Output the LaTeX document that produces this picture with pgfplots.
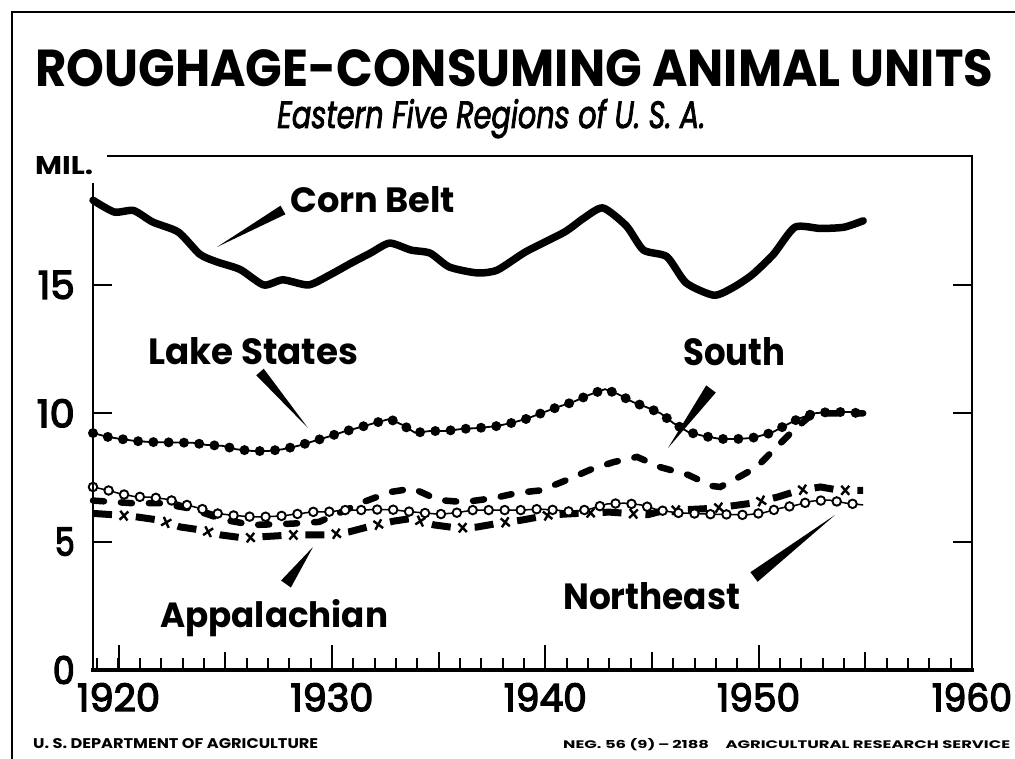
\documentclass[border=0pt]{standalone}
\usepackage{fontspec}
\setmainfont{Poppins}
\newfontfamily\tkfont{Poppins}[FakeBold=3.5]
\newfontfamily\subfont{Poppins}[FakeBold=2.5]
\usepackage{graphicx}
\usepackage{pgfplots}
\pgfplotsset{compat=1.18}
\usetikzlibrary{decorations.markings}
\newcommand\fit[3]{\resizebox{#1pt}{#2pt}{#3}}
\newcommand\tk[2]{\resizebox{#1pt}{28pt}{\tkfont #2}}
\begin{document}
\begin{tikzpicture}[x=1pt,y=1pt]
\path[use as bounding box] (0,0) rectangle (1015,-759);
\draw[line width=2.5pt] (12,-759) -- (12,-12) -- (1015,-12);
\begin{axis}[
  at={(93pt,-670pt)}, anchor=south west,
  scale only axis, width=879pt, height=513.4pt,
  xmin=1918.8, xmax=1960, ymin=0, ymax=20,
  axis line style={draw=none},
  tick align=inside,
  tick style={line width=2.2pt, black},
  major tick length=25pt, minor tick length=12pt,
  xtick={1920,1930,1940,1950,1960},
  xticklabels={\tk{83}{1920},\tk{83}{1930},\tk{83}{1940},\tk{83}{1950},\tk{80}{1960}},
  minor xtick={1919,1920,...,1959},
  extra x ticks={1925,1935,1945,1955},
  extra x tick labels={},
  extra x tick style={major tick length=18pt},
  xtick pos=left,
  ytick=\empty,
  extra y ticks={0,5,10,15},
  extra y tick labels={\tk{22}{0},\tk{20}{5},\tk{38}{10},\tk{37}{15}},
  extra y tick style={major tick length=19pt},
  minor ytick={2.5,7.5,12.5,17.5},
  ytick pos=both,
  xticklabel style={anchor=north, inner sep=0pt, yshift=-13pt},
  yticklabel style={anchor=east, inner sep=0pt, xshift=-18pt},
  clip=false,
]
% Corn Belt
\addplot[line width=7.5pt, line join=round, line cap=round, smooth, tension=0.4] coordinates {
(1918.8,18.3) (1919.8,17.84) (1920.7,17.9) (1921.6,17.45) (1922.8,17.06) (1923.8,16.2) (1924.6,15.9) (1925.7,15.6) (1926.8,15.0) (1927.7,15.2) (1928.9,15.0) (1929.9,15.39) (1930.9,15.85) (1931.8,16.24) (1932.7,16.63) (1933.7,16.36) (1934.6,16.24) (1935.5,15.7) (1936.8,15.47) (1937.75,15.58) (1939.1,16.3) (1940.9,17.06) (1941.8,17.6) (1942.7,18.0) (1943.8,17.3) (1944.6,16.36) (1945.7,16.1) (1946.6,15.08) (1947.9,14.6) (1948.8,14.9) (1949.7,15.4) (1950.7,16.2) (1951.7,17.25) (1952.9,17.2) (1954,17.25) (1954.9,17.5)};
% Lake States
\addplot[line width=1.8pt, postaction={draw, line width=10pt, line cap=round, dash pattern=on 0pt off 15.3pt}] coordinates {
(1918.8,9.23) (1919.5,9.08) (1920.1,9.0) (1920.8,8.92) (1921.5,8.88) (1923.5,8.85) (1924.1,8.77) (1924.9,8.73) (1925.5,8.6) (1926.3,8.53) (1927.0,8.53) (1927.7,8.6) (1928.4,8.73) (1929,8.88) (1929.8,9.08) (1930.5,9.27) (1931.2,9.43) (1932,9.62) (1932.7,9.78) (1933.3,9.55) (1933.9,9.24) (1934.6,9.31) (1935.3,9.31) (1936.1,9.39) (1936.9,9.43) (1937.7,9.5) (1938.4,9.62) (1939.1,9.78) (1939.8,10.0) (1940.6,10.25) (1941.3,10.44) (1942,10.7) (1942.8,10.94) (1943.4,10.75) (1944.1,10.44) (1944.8,10.22) (1945.4,10.0) (1946,9.62) (1946.7,9.27) (1947.4,9.12) (1948.2,9.0) (1949,9.0) (1949.7,9.04) (1950.6,9.24) (1951.3,9.55) (1951.9,9.8) (1952.6,10.0) (1953.3,10.05) (1954.3,10.05) (1954.9,9.97)};
% South
\addplot[line width=6.5pt, line cap=round, dash pattern=on 11pt off 17pt] coordinates {
(1918.8,6.6) (1920.6,6.5) (1921.9,6.5) (1923.3,6.3) (1925.0,5.84) (1926.3,5.65) (1928.1,5.7) (1929.4,5.77) (1930.3,6.1) (1931.5,6.55) (1932.7,6.93) (1933.8,7.07) (1935,6.62) (1936.2,6.54) (1937.6,6.7) (1938.7,6.9) (1939.8,7.0) (1940.8,7.33) (1942.1,7.8) (1943.2,8.1) (1944.3,8.3) (1945.4,7.9) (1946.7,7.6) (1947.8,7.17) (1948.2,7.13) (1949,7.48) (1949.9,7.9) (1950.7,8.57) (1951.5,9.23) (1952.3,9.82) (1953,10.0) (1954.3,10.0) (1954.9,10.0)};
% Appalachian
\addplot[line width=7pt, dash pattern=on 19pt off 24pt,
  postaction={decorate}, decoration={markings, mark=between positions 31pt and 1 step 43pt with {\draw[line width=2.4pt, solid] (-4pt,-4.5pt)--(4pt,4.5pt) (-4pt,4.5pt)--(4pt,-4.5pt);}}] coordinates {
(1918.8,6.1) (1919.9,6.04) (1920.8,5.97) (1921.9,5.84) (1922.9,5.57) (1923.9,5.45) (1924.8,5.26) (1925.9,5.14) (1926.9,5.2) (1928.1,5.26) (1929.8,5.26) (1930.8,5.38) (1931.8,5.6) (1932.9,5.8) (1933.7,5.9) (1934.8,5.65) (1935.9,5.53) (1936.8,5.57) (1937.9,5.73) (1938.9,5.84) (1940.2,6.04) (1941.5,6.1) (1943,6.15) (1944.8,6.05) (1945.5,6.2) (1947.9,6.3) (1949.7,6.5) (1950.9,6.74) (1951.9,7.0) (1952.9,7.13) (1953.8,7.0) (1954.9,7.0)};
% Northeast
\addplot[line width=1.5pt,
  postaction={draw, line width=10.6pt, line cap=round, dash pattern=on 0pt off 16pt},
  postaction={draw, white, line width=6.2pt, line cap=round, dash pattern=on 0pt off 16pt}] coordinates {
(1918.8,7.13) (1919.5,7.0) (1920.1,6.86) (1920.8,6.75) (1921.5,6.73) (1922.3,6.65) (1923.1,6.45) (1923.8,6.3) (1924.6,6.1) (1925.4,6.02) (1926.2,5.97) (1926.9,5.97) (1927.6,6.0) (1928.3,6.07) (1929.1,6.16) (1929.8,6.16) (1930.6,6.23) (1931.3,6.23) (1932,6.25) (1932.8,6.25) (1933.5,6.18) (1934.3,6.12) (1935,6.07) (1935.8,6.12) (1936.6,6.23) (1937.3,6.23) (1938.1,6.23) (1938.9,6.23) (1939.7,6.27) (1940.5,6.23) (1941.3,6.16) (1942.1,6.27) (1942.9,6.47) (1943.7,6.5) (1944.5,6.43) (1945.3,6.23) (1946.2,6.12) (1946.9,6.1) (1947.7,6.07) (1948.6,6.06) (1949.4,6.04) (1950.2,6.12) (1951,6.3) (1951.8,6.43) (1952.5,6.58) (1953.3,6.62) (1954.1,6.5) (1954.9,6.43)};
\end{axis}
% frame
\draw[line width=4pt] (91,-670) -- (974,-670);
\draw[line width=2pt] (93,-670) -- (93,-183);
\draw[line width=2pt] (972,-670) -- (972,-156);
\draw[line width=2pt] (107,-156) -- (973,-156);
% pointers
\fill (217,-247) -- (280.5,-205.7) -- (285.5,-214.3) -- cycle;
\fill (308,-428) -- (256.3,-375.3) -- (263.7,-368.7) -- cycle;
\fill (668,-448) -- (706.2,-385.4) -- (715.8,-392.6) -- cycle;
\fill (313,-547) -- (281.1,-580.5) -- (290.9,-587.5) -- cycle;
\fill (835,-515) -- (750.4,-572.2) -- (757.6,-581.8) -- cycle;
% texts
\node[anchor=base west, inner sep=0pt] at (35,-87) {\fit{958}{37}{\bfseries ROUGHAGE-CONSUMING ANIMAL UNITS}};
\node[anchor=base west, inner sep=0pt] at (277,-128) {\fit{428}{29}{\subfont\itshape Eastern Five Regions of U. S. A.}};
\node[anchor=base west, inner sep=0pt] at (35,-175) {\fit{58}{18}{\bfseries MIL.}};
\node[anchor=base west, inner sep=0pt] at (290,-213) {\fit{165}{26}{\bfseries Corn Belt}};
\node[anchor=base west, inner sep=0pt] at (148,-364) {\fit{210}{27}{\bfseries Lake States}};
\node[anchor=base west, inner sep=0pt] at (683,-366) {\fit{102}{28}{\bfseries South}};
\node[anchor=base west, inner sep=0pt] at (160,-627) {\fit{228}{28}{\bfseries Appalachian}};
\node[anchor=base west, inner sep=0pt] at (563,-609) {\fit{177}{27}{\bfseries Northeast}};
\node[anchor=base west, inner sep=0pt] at (33,-748) {\fit{285}{10}{\bfseries U. S. DEPARTMENT OF AGRICULTURE}};
\node[anchor=base west, inner sep=0pt] at (563,-748) {\fit{447}{10}{\bfseries NEG. 56 (9)\,--\,2188\quad AGRICULTURAL RESEARCH SERVICE}};
\end{tikzpicture}
\end{document}
